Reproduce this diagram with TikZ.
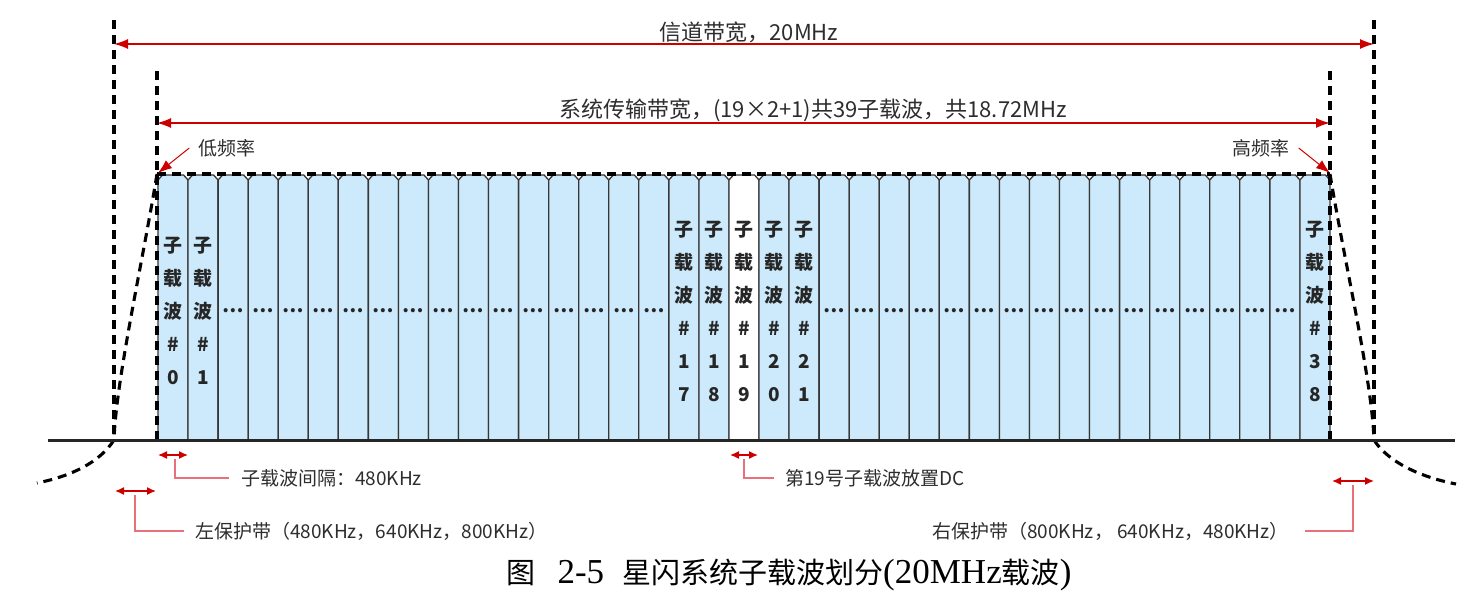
\documentclass[tikz,border=0pt]{standalone}
\usepackage{fontspec}
\setmainfont{Liberation Serif}
\newfontfamily\cjk{Noto Sans CJK SC}
\usetikzlibrary{arrows.meta}
\definecolor{cellblue}{RGB}{204,234,251}
\definecolor{cellgray}{RGB}{55,55,55}
\definecolor{arrred}{RGB}{205,0,0}
\definecolor{linkred}{RGB}{232,112,122}
\definecolor{txt}{RGB}{45,45,45}
\newcommand\capcjk[1]{{\cjk\fontsize{29}{34}\selectfont #1}}
\begin{document}
\begin{tikzpicture}[x=1pt,y=-1pt,
 dashln/.style={draw=black, line width=3.1pt, dash pattern=on 9pt off 6pt},
 cellln/.style={draw=cellgray, line width=1.3pt},
 bigdim/.style={draw=arrred, line width=1.5pt, {Latex[length=14pt,width=10pt]}-{Latex[length=14pt,width=10pt]}},
 smalldim/.style={draw=arrred, line width=1.4pt, {Latex[length=9pt,width=8pt]}-{Latex[length=9pt,width=8pt]}},
 ptr/.style={draw=arrred, line width=1pt, -{Latex[length=14pt,width=10pt]}},
 link/.style={draw=linkred, line width=1.4pt},
 lblbig/.style={text=txt, font=\cjk\fontsize{22}{26}\selectfont, inner sep=0pt},
 lblsm/.style={text=txt, font=\cjk\fontsize{19}{23}\selectfont, inner sep=0pt},
 sclbl/.style={text=black!85, font=\cjk\bfseries\fontsize{19}{33}\selectfont, align=center, inner sep=0pt},
 dots/.style={text=black!85, font=\cjk\bfseries\fontsize{19}{23}\selectfont, inner sep=0pt},
]
\useasboundingbox (0,0) rectangle (1484,595);

% subcarrier cells
\foreach \i in {0,...,38} {
  \pgfmathsetmacro\xa{158+\i*30.05}
  \pgfmathsetmacro\xb{158+(\i+1)*30.05}
  \ifnum\i=19 \def\fc{white}\else\def\fc{cellblue}\fi
  \draw[cellln, fill=\fc] (\xa,440) -- (\xa,180) -- (\xa+4.5,175) -- (\xb-4.5,175) -- (\xb,180) -- (\xb,440);
}

% labels in cells
\newcommand\sclab[2]{\node[sclbl] (sc#1) at ({158+(#1+0.5)*30.05},311) {#2};}
\sclab{0}{子\\载\\波\\\#\\0}
\sclab{1}{子\\载\\波\\\#\\1}
\sclab{17}{子\\载\\波\\\#\\1\\7}
\sclab{18}{子\\载\\波\\\#\\1\\8}
\sclab{19}{子\\载\\波\\\#\\1\\9}
\sclab{20}{子\\载\\波\\\#\\2\\0}
\sclab{21}{子\\载\\波\\\#\\2\\1}
\sclab{38}{子\\载\\波\\\#\\3\\8}
\foreach \i in {2,...,16} {\node[dots] (d\i) at ({158+(\i+0.5)*30.05},311) {…};}
\foreach \i in {22,...,37} {\node[dots] (d\i) at ({158+(\i+0.5)*30.05},311) {…};}

% band edges
\coordinate (OLt) at (114,20);  \coordinate (OLb) at (114,440);
\coordinate (ORt) at (1374,20); \coordinate (ORb) at (1374,440);
\coordinate (ILt) at (157,71);  \coordinate (ILb) at (157,440);
\coordinate (IRt) at (1330,71); \coordinate (IRb) at (1330,440);
\coordinate (TL) at (157,174);  \coordinate (TR) at (1330,174);
\coordinate (FL) at (37,483);   \coordinate (FR) at (1456,484);

\draw[dashln] (TL) -- (TR);
\draw[dashln] (OLt) -- (OLb);
\draw[dashln] (ORt) -- (ORb);
\draw[dashln] (ILt) -- (ILb);
\draw[dashln] (IRt) -- (IRb);
\draw[dashln] (TL) .. controls (143,260) and (116,380) .. (OLb);
\draw[dashln] (OLb) .. controls (100,462) and (72,476) .. (FL);
\draw[dashln] (TR) .. controls (1344,260) and (1372,380) .. (ORb);
\draw[dashln] (ORb) .. controls (1388,462) and (1420,477) .. (FR);

% baseline
\coordinate (B0) at (48,440); \coordinate (B1) at (1455,440);
\draw[line width=3pt, black!85] (B0) -- (B1);

% bandwidth arrows
\coordinate (A1l) at (114,44);  \coordinate (A1r) at (1374,44);
\coordinate (A2l) at (157,123); \coordinate (A2r) at (1330,123);
\draw[bigdim] (A1l) -- (A1r);
\draw[bigdim] (A2l) -- (A2r);
\node[lblbig] (chbw) at (749,32) {信道带宽，20MHz};
\node[lblbig] (sysbw) at (813,110) {系统传输带宽，(19×2+1)共39子载波，共18.72MHz};

% low / high frequency
\node[lblsm] (low) at (227,148) {低频率};
\node[lblsm] (high) at (1261,148) {高频率};
\draw[ptr] ([xshift=-9pt]low.west) -- (158,173);
\draw[ptr] ([xshift=9pt]high.east) -- (1330,173);

% spacing annotations
\coordinate (s1a) at (158,455); \coordinate (s1b) at (188,455); \coordinate (s1m) at (175,455);
\coordinate (s2a) at (115,491); \coordinate (s2b) at (156,491); \coordinate (s2m) at (135,491);
\coordinate (s3a) at (730,455); \coordinate (s3b) at (758,455); \coordinate (s3m) at (744,455);
\coordinate (s4a) at (1332,481); \coordinate (s4b) at (1374,481); \coordinate (s4m) at (1353,481);
\draw[smalldim] (s1a) -- (s1b);
\draw[smalldim] (s2a) -- (s2b);
\draw[smalldim] (s3a) -- (s3b);
\draw[smalldim] (s4a) -- (s4b);

\node[lblsm, anchor=west] (spc) at (241,478) {子载波间隔：480KHz};
\node[lblsm, anchor=west] (lg) at (195,531) {左保护带（480KHz，640KHz，800KHz）};
\node[lblsm, anchor=west] (dc) at (785,478) {第19号子载波放置DC};
\node[lblsm, anchor=east] (rg) at (1289,531) {右保护带（800KHz， 640KHz，480KHz）};

\draw[link] ([yshift=-4pt]s1m) |- ([xshift=-12pt]spc.west);
\draw[link] ([yshift=-4pt]s2m) |- ([xshift=-11pt]lg.west);
\draw[link] ([yshift=-4pt]s3m) |- ([xshift=-11pt]dc.west);
\draw[link] ([yshift=-4pt]s4m) |- ([xshift=16pt]rg.east);

% caption
\node[font=\fontsize{35}{40}\selectfont, inner sep=0pt] (cap) at (789,575)
 {\capcjk{图}\hspace{22pt}2-5\hspace{18pt}\capcjk{星闪系统子载波划分}(20MHz\capcjk{载波})};
\end{tikzpicture}
\end{document}
